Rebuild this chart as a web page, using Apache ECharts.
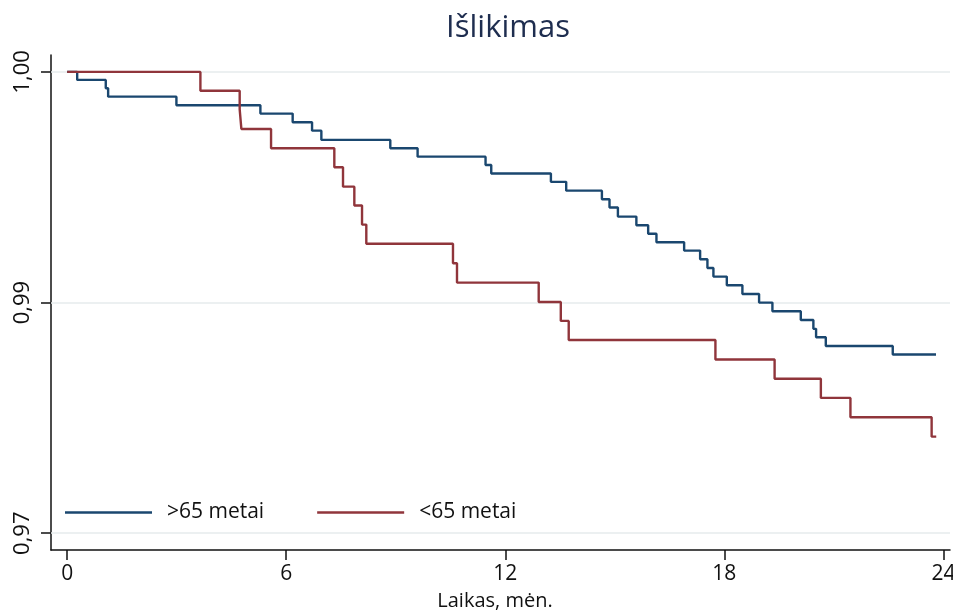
<!DOCTYPE html>
<html><head><meta charset="utf-8">
<script src="https://cdn.jsdelivr.net/npm/echarts@6/dist/echarts.min.js"></script>
<style>html,body{margin:0;padding:0;background:#fff}#c{width:953px;height:614px}</style>
</head><body><div id="c"></div>
<script>
const titleText = 'Išlikimas';
const xName = 'Laikas, mėn.';
const seriesNames = ['>65 metai', '<65 metai'];
const xTicks = [0, 6, 12, 18, 24];
const yTicks = [0.97, 0.985, 1.0];
const yTickLabels = ['0,97', '0,99', '1,00'];

// >65 metai (step times, survival after each step)
const olderT = [0, 0.274, 1.057, 1.122, 2.992, 5.292, 6.176, 6.707, 6.962, 8.850, 9.598, 11.459, 11.615, 13.249, 13.668, 14.646, 14.854, 15.084, 15.590, 15.913, 16.140, 16.898, 17.336, 17.536, 17.700, 18.067, 18.494, 18.951, 19.316, 20.093, 20.438, 20.512, 20.778, 22.612, 23.797];
const olderS = [1.0, 0.99948, 0.99894, 0.99839, 0.99783, 0.99729, 0.99673, 0.99618, 0.99558, 0.99504, 0.99449, 0.99395, 0.99339, 0.99285, 0.99228, 0.99172, 0.99118, 0.99059, 0.99003, 0.98948, 0.98892, 0.98838, 0.98782, 0.98725, 0.98669, 0.98613, 0.98556, 0.98500, 0.98444, 0.98387, 0.98329, 0.98275, 0.98218, 0.98162, 0.98162];

// <65 metai
const youngerT = [0, 3.649, 4.725, 4.771, 5.584, 7.317, 7.555, 7.865, 8.076, 8.193, 10.567, 10.677, 12.915, 13.520, 13.737, 17.755, 19.376, 20.643, 21.453, 23.677, 23.803];
const youngerS = [1.0, 0.99878, 0.99757, 0.99629, 0.99504, 0.99380, 0.99254, 0.99131, 0.99007, 0.98883, 0.98756, 0.98630, 0.98504, 0.98381, 0.98257, 0.98130, 0.98005, 0.97880, 0.97754, 0.97628, 0.97628];

const blue = '#1a476f', red = '#90353b';
const font = '"Open Sans", sans-serif';
const X_MIN = -0.443, X_MAX = 24.18;

const pairs = (t, s) => t.map((v, i) => [v, s[i]]);

const chart = echarts.init(document.getElementById('c'), null, {renderer: 'canvas'});
chart.setOption({
  backgroundColor: '#fff',
  animation: false,
  title: [
    {text: titleText, left: 503, top: 8, textAlign: 'center',
     textStyle: {fontFamily: font, fontSize: 31, fontWeight: 'normal', color: '#1e2d4f'}},
    {text: xName, left: 490, top: 586, textAlign: 'center',
     textStyle: {fontFamily: font, fontSize: 20, fontWeight: 'normal', color: '#111'}}
  ],
  grid: {left: 51, right: 3, top: 55, bottom: 64, containLabel: false, outerBoundsMode: 'none'},
  legend: {
    left: 60, top: 497, orient: 'horizontal', itemWidth: 87, itemHeight: 2.5, itemGap: 53, icon: 'rect',
    textStyle: {fontFamily: font, fontSize: 21, color: '#111', padding: [0, 0, 0, 10]},
    data: seriesNames
  },
  xAxis: {
    type: 'value', min: X_MIN, max: X_MAX,
    axisLine: {show: true, onZero: false, lineStyle: {color: '#111', width: 1.5}},
    axisTick: {show: true, length: 10, customValues: xTicks, lineStyle: {color: '#111', width: 1.5}},
    axisLabel: {customValues: xTicks, margin: 14, fontFamily: font, fontSize: 21, color: '#111'},
    splitLine: {show: false}
  },
  yAxis: {
    type: 'value', min: 0.96891, max: 1.0011,
    axisLine: {show: true, onZero: false, lineStyle: {color: '#111', width: 1.5}},
    axisTick: {show: true, length: 10, customValues: yTicks, lineStyle: {color: '#111', width: 1.5}},
    axisLabel: {customValues: yTicks, rotate: 90, margin: 17, fontFamily: font, fontSize: 22, color: '#111',
      formatter: v => { const i = yTicks.findIndex(t => Math.abs(t - v) < 1e-6); return i >= 0 ? yTickLabels[i] : ''; }},
    splitLine: {show: false}
  },
  series: [
    {name: seriesNames[0], type: 'line', step: 'end', symbol: 'none', z: 3,
     data: pairs(olderT, olderS), lineStyle: {color: blue, width: 2.4}, itemStyle: {color: blue},
     markLine: {silent: true, symbol: 'none', precision: 5, label: {show: false}, z: 1,
       lineStyle: {color: '#e6ebec', width: 1.5, type: 'solid'},
       data: yTicks.map(v => [{coord: [X_MIN, v]}, {coord: [X_MAX, v]}])}},
    {name: seriesNames[1], type: 'line', step: 'end', symbol: 'none', z: 3,
     data: pairs(youngerT, youngerS), lineStyle: {color: red, width: 2.4}, itemStyle: {color: red}}
  ]
});
</script></body></html>
